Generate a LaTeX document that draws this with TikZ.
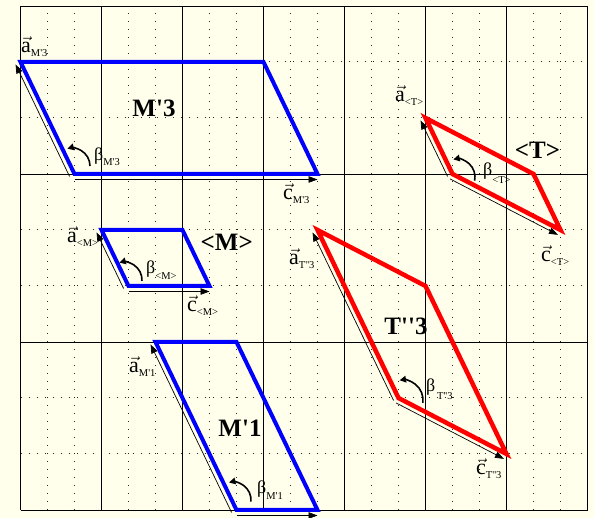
\documentclass[tikz,border=0pt]{standalone}
\usepackage{fontspec}
\setmainfont{Liberation Serif}
\usetikzlibrary{calc,arrows.meta}
\definecolor{bgc}{RGB}{255,255,236}
\definecolor{shblue}{RGB}{0,0,255}
\definecolor{shred}{RGB}{255,0,0}
\newcommand\qq{\textquotesingle}
\newcommand\vlab[3]{{\fontsize{22}{26}\selectfont$\vec{\mbox{#1}}$}{\fontsize{10.5}{12}\selectfont\raisebox{-#3}{#2}}}
\newcommand\blab[2]{{\fontsize{18}{20}\selectfont β}{\fontsize{10.5}{12}\selectfont\raisebox{-#2}{#1}}}
\begin{document}
\begin{tikzpicture}[
  gridsolid/.style={line width=0.8pt, black},
  griddot/.style={line width=1pt, black!85, dash pattern=on 1pt off 7pt},
  blueshape/.style={draw=shblue, line width=4pt, line join=miter},
  redshape/.style={draw=shred, line width=4.5pt, line join=miter},
  vecarrow/.style={line width=0.7pt, black, -{Triangle[length=9pt,width=6.5pt]}},
  betaarc/.style={line width=1.6pt, black, -{Triangle[length=6.5pt,width=6.5pt]}},
  lab/.style={inner sep=0pt, anchor=base west},
  title/.style={inner sep=0pt, font=\fontsize{25}{30}\selectfont\bfseries}
]
\useasboundingbox (0,0) rectangle (594pt,518pt);
\fill[bgc] (0,0) rectangle (594pt,518pt);
\begin{scope}[shift={(20.5pt,8pt)}, x=27pt, y=56pt]
  % dotted grid
  \foreach \i in {1,2,4,5,7,8,10,11,13,14,16,17,19,20}
    \draw[griddot] (\i,0) -- (\i,9);
  \foreach \j in {1,2,4,5,7,8}
    \draw[griddot] (0,\j) -- (21,\j);
  % solid grid
  \foreach \i in {0,3,...,21}
    \draw[gridsolid] (\i,0) -- (\i,9);
  \foreach \j in {0,3,6,9}
    \draw[gridsolid] (0,\j) -- (21,\j);
  % vertices
  \coordinate (m3o) at (2,6);  \coordinate (m3a) at (0,8);
  \coordinate (m3b) at (9,8);  \coordinate (m3c) at (11,6);
  \coordinate (mmo) at (4,4);  \coordinate (mma) at (3,5);
  \coordinate (mmb) at (6,5);  \coordinate (mmc) at (7,4);
  \coordinate (m1o) at (8,0);  \coordinate (m1a) at (5,3);
  \coordinate (m1b) at (8,3);  \coordinate (m1c) at (11,0);
  \coordinate (tto) at (16,6); \coordinate (tta) at (15,7);
  \coordinate (ttb) at (19,6); \coordinate (ttc) at (20,5);
  \coordinate (t3o) at (14,2); \coordinate (t3a) at (11,5);
  \coordinate (t3b) at (15,4); \coordinate (t3c) at (18,1);
\end{scope}

% cells
\draw[blueshape] (m3o) -- (m3a) -- (m3b) -- (m3c) -- cycle;
\draw[blueshape] (mmo) -- (mma) -- (mmb) -- (mmc) -- cycle;
\draw[blueshape] (m1o) -- (m1a) -- (m1b) -- (m1c) -- cycle;
\draw[redshape] (tto) -- (tta) -- (ttb) -- (ttc) -- cycle;
\draw[redshape] (t3o) -- (t3a) -- (t3b) -- (t3c) -- cycle;

% basis vectors
\foreach \p in {m3,mm,m1,tt,t3}{
  \draw[vecarrow] ($(\p o)!5.5pt!90:(\p a)$) -- ($(\p a)!5.5pt!-90:(\p o)$);
}
\foreach \p in {m3,mm,m1,tt,t3}{
  \draw[vecarrow] ($(\p o)!5.5pt!-90:(\p c)$) -- ($(\p c)!5.5pt!90:(\p o)$);
}

% beta arcs
\draw[betaarc] ($(m3o)+(-2.5pt,8pt)$) ++(0:18pt) arc[start angle=0, end angle=105, radius=18pt];
\draw[betaarc] ($(mmo)+(-4.5pt,6pt)$) ++(-3:18pt) arc[start angle=-3, end angle=105, radius=18pt];
\draw[betaarc] ($(m1o)+(-3.5pt,10pt)$) ++(-5:18pt) arc[start angle=-5, end angle=103, radius=18pt];
\draw[betaarc] ($(t3o)+(4.5pt,-2pt)$) ++(-8:20pt) arc[start angle=-8, end angle=100, radius=20pt];
\draw[betaarc] ($(tto)+(4.5pt,-3pt)$) ++(-12:18pt) arc[start angle=-12, end angle=102, radius=18pt];

% titles
\node[title] (tm3) at (154pt,409.5pt) {M\qq 3};
\node[title] (tmm) at (226.7pt,276pt) {<M>};
\node[title] (tm1) at (240pt,90pt) {M\qq 1};
\node[title] (tt3) at (406pt,192pt) {T\qq\qq 3};
\node[title] (ttt) at (537.5pt,368pt) {<T>};

% vector labels
\node[lab] (lam3) at (21pt,465pt) {\vlab{a}{M\qq 3}{4pt}};
\node[lab] (lcm3) at (283pt,318pt) {\vlab{c}{M\qq 3}{4pt}};
\node[lab] (lamm) at (67pt,275pt) {\vlab{a}{<M>}{4pt}};
\node[lab] (lcmm) at (187pt,206pt) {\vlab{c}{<M>}{4pt}};
\node[lab] (lam1) at (129pt,145pt) {\vlab{a}{M\qq 1}{4pt}};
\node[lab] (lat3) at (289pt,253pt) {\vlab{a}{T\qq\qq 3}{4pt}};
\node[lab] (lct3) at (476pt,43pt) {\vlab{c}{T\qq\qq 3}{4pt}};
\node[lab] (latt) at (395pt,416pt) {\vlab{a}{<T>}{4pt}};
\node[lab] (lctt) at (541pt,256pt) {\vlab{c}{<T>}{4pt}};

% beta labels
\node[lab] (lbm3) at (94pt,357pt) {\blab{M\qq 3}{5pt}};
\node[lab] (lbmm) at (146pt,244pt) {\blab{<M>}{6pt}};
\node[lab] (lbm1) at (257pt,24pt) {\blab{M\qq 1}{6pt}};
\node[lab] (lbt3) at (426pt,126pt) {\blab{\,T\qq\qq 3}{8pt}};
\node[lab] (lbtt) at (483pt,342pt) {\blab{<T>}{8pt}};
\end{tikzpicture}
\end{document}
